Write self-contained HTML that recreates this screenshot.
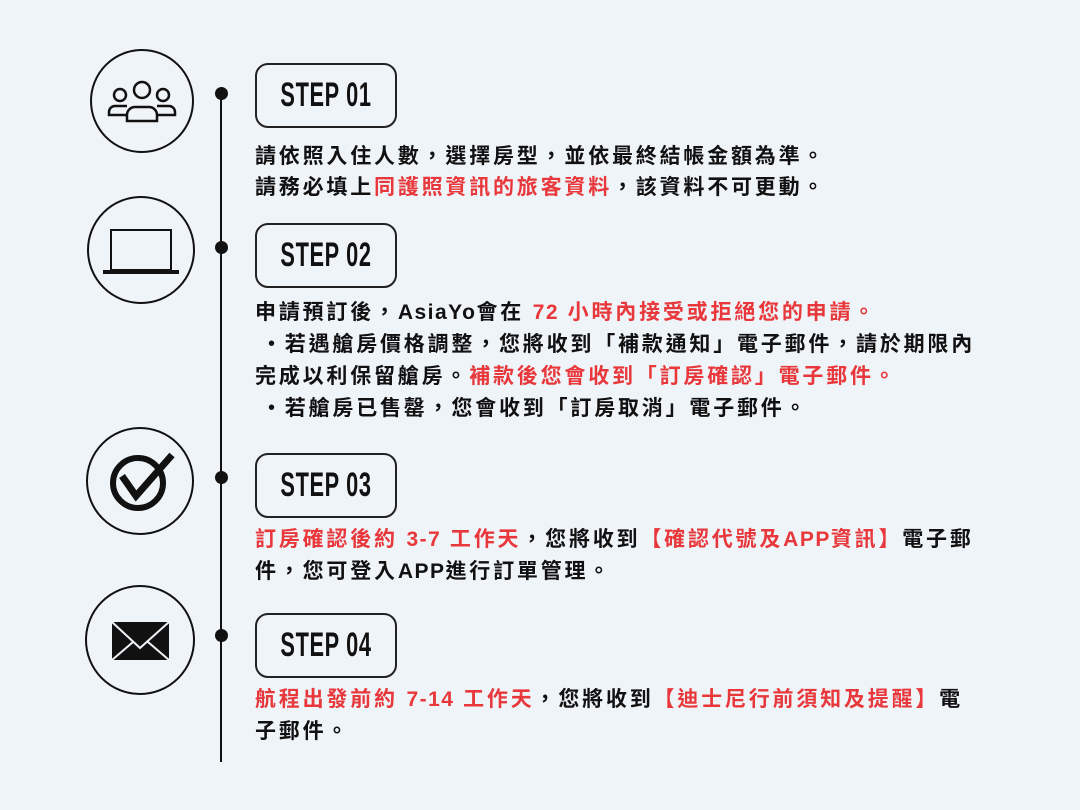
<!DOCTYPE html>
<html><head><meta charset="utf-8"><style>
body{margin:0;width:1080px;height:810px;background:#eff4f9;position:relative;overflow:hidden;font-family:"Liberation Sans","Noto Sans CJK TC",sans-serif;}
.l{position:absolute;left:255px;font-size:21px;font-weight:bold;letter-spacing:2.8px;white-space:nowrap;color:#111;line-height:24px}
.r{color:#e8383b}
.e{letter-spacing:1.5px}
.box{position:absolute;left:255px;width:138px;height:61px;border:2px solid #222;border-radius:13px;box-sizing:content-box}
.box span{position:absolute;left:-40px;right:-40px;top:12px;text-align:center;white-space:nowrap;font-size:34px;font-weight:bold;color:#111;transform:scaleX(0.64);letter-spacing:1px;line-height:36px}
.dot{position:absolute;left:215px;width:13px;height:13px;border-radius:50%;background:#111}
</style></head><body>
<svg width="1080" height="810" style="position:absolute;left:0;top:0">
<line x1="221" y1="93" x2="221" y2="762" stroke="#111" stroke-width="2"/>
<g fill="none" stroke="#111" stroke-width="2">
<circle cx="142" cy="101" r="51"/>
<circle cx="141" cy="250" r="53"/>
<circle cx="140" cy="481" r="53"/>
<circle cx="140" cy="640" r="54"/>
</g>
<g fill="none" stroke="#111" stroke-width="2.5">
<circle cx="142" cy="90" r="8"/>
<circle cx="120" cy="95" r="6"/>
<circle cx="163" cy="95" r="6"/>
<path d="M127 121 v-6 a8 8 0 0 1 8 -8 h14 a8 8 0 0 1 8 8 v6 z"/>
<path d="M127 115 h-18 v-3 a6 6 0 0 1 6 -6 h12"/>
<path d="M157 115 h18 v-3 a6 6 0 0 0 -6 -6 h-12"/>
</g>
<rect x="111" y="230" width="60" height="40" fill="none" stroke="#111" stroke-width="2"/>
<rect x="103" y="270" width="76" height="4" fill="#111"/>
<circle cx="138" cy="483" r="25" fill="none" stroke="#111" stroke-width="6"/>
<path d="M122 476 L136 496 L172 455" fill="none" stroke="#111" stroke-width="7" stroke-linejoin="miter"/>
<rect x="112" y="622" width="57" height="38" fill="#111"/>
<path d="M112 622 L140 648 L169 622 M112 660 L133 642 M169 660 L148 642" stroke="#eff4f9" stroke-width="2" fill="none"/>
</svg>
<div class="dot" style="top:87px"></div>
<div class="dot" style="top:241px"></div>
<div class="dot" style="top:471px"></div>
<div class="dot" style="top:629px"></div>

<div class="box" style="top:63px"><span>STEP 01</span></div>
<div class="box" style="top:223px"><span>STEP 02</span></div>
<div class="box" style="top:453px"><span>STEP 03</span></div>
<div class="box" style="top:613px"><span>STEP 04</span></div>

<div class="l" style="top:145px">請依照入住人數，選擇房型，並依最終結帳金額為準。</div>
<div class="l" style="top:176px">請務必填上<span class="r">同護照資訊的旅客資料</span>，該資料不可更動。</div>

<div class="l" style="top:301px">申請預訂後，<span class="e">AsiaYo</span>會在 <span class="r"><span class="e">72</span> 小時內接受或拒絕您的申請。</span></div>
<div class="l" style="top:333px;left:261px">・若遇艙房價格調整，您將收到「補款通知」電子郵件，請於期限內</div>
<div class="l" style="top:365px">完成以利保留艙房。<span class="r">補款後您會收到「訂房確認」電子郵件。</span></div>
<div class="l" style="top:397px;left:261px">・若艙房已售罄，您會收到「訂房取消」電子郵件。</div>

<div class="l" style="top:528px"><span class="r">訂房確認後約 <span class="e">3-7</span> 工作天</span>，您將收到<span class="r">【確認代號及<span class="e">APP</span>資訊】</span>電子郵</div>
<div class="l" style="top:560px">件，您可登入<span class="e">APP</span>進行訂單管理。</div>

<div class="l" style="top:688px"><span class="r">航程出發前約 <span class="e">7-14</span> 工作天</span>，您將收到<span class="r">【迪士尼行前須知及提醒】</span>電</div>
<div class="l" style="top:720px">子郵件。</div>
</body></html>
